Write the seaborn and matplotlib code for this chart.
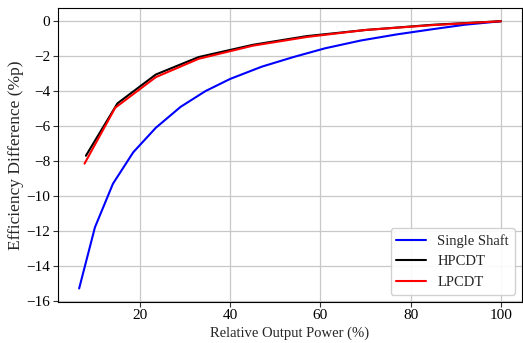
import pandas as pd
import matplotlib.pyplot as plt
import seaborn as sns

# Relative output power (%) and efficiency difference (%p) per configuration
single_x = [6.5, 10, 14, 18.5, 23.5, 29, 34.5, 40, 47, 54, 61, 69, 77, 85, 92, 100]
single_y = [-15.3, -11.8, -9.3, -7.5, -6.1, -4.9, -4.0, -3.3, -2.6, -2.05, -1.55, -1.1, -0.75, -0.45, -0.2, 0]

hp_x = [8, 15, 23.5, 33, 45, 57, 70, 85, 100]
hp_y = [-7.7, -4.7, -3.05, -2.05, -1.35, -0.85, -0.5, -0.2, 0]

lp_x = [7.7, 14.5, 23.5, 33, 45, 57, 70, 85, 100]
lp_y = [-8.15, -4.95, -3.2, -2.15, -1.4, -0.9, -0.5, -0.22, 0]

df = pd.concat([
    pd.DataFrame({'power': single_x, 'diff': single_y, 'case': 'Single Shaft'}),
    pd.DataFrame({'power': hp_x, 'diff': hp_y, 'case': 'HPCDT'}),
    pd.DataFrame({'power': lp_x, 'diff': lp_y, 'case': 'LPCDT'}),
])

sns.set_style('ticks')
plt.rcParams['font.family'] = ['Liberation Serif', 'DejaVu Serif']
plt.rcParams['font.size'] = 10

fig = plt.figure(figsize=(5.23, 3.43), dpi=100)
ax = fig.add_axes([0.111, 0.12, 0.887, 0.857])

sns.lineplot(
    data=df, x='power', y='diff', hue='case',
    palette={'Single Shaft': 'blue', 'HPCDT': 'black', 'LPCDT': 'red'},
    linewidth=1.5, ax=ax, sort=False
)

ax.grid(True, color='#c8c8c8', linewidth=0.9)
ax.set_axisbelow(True)
ax.set_xticks([20, 40, 60, 80, 100])
ax.set_yticks(range(-16, 1, 2))
ax.set_xlabel('Relative Output Power (%)', fontsize=10.5, labelpad=3)
ax.set_ylabel('Efficiency Difference (%p)', fontsize=12.5, labelpad=2)
ax.tick_params(labelsize=11, colors='#333333', labelcolor='black', pad=2)
for s in ax.spines.values():
    s.set_color('black')
    s.set_linewidth(0.8)

ax.legend(title=None, loc='lower right', fontsize=10.5, framealpha=0.9, edgecolor='#cccccc')

plt.savefig('out.png', dpi=100)
plt.close()
